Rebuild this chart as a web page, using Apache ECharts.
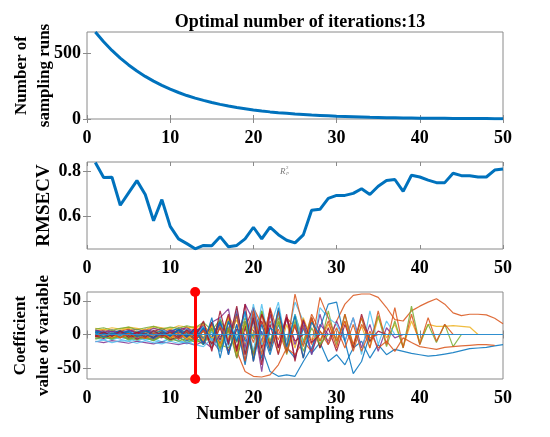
<!DOCTYPE html>
<html>
<head>
<meta charset="utf-8">
<script src="https://cdn.jsdelivr.net/npm/echarts@6/dist/echarts.min.js"></script>
<style>
  html, body { margin: 0; padding: 0; background: #fff; }
  #main { width: 550px; height: 437px; }
</style>
</head>
<body>
<div id="main"></div>
<script>
// data
var optimalIter = 13;
var runTicks = [0, 10, 20, 30, 40, 50];
var countTicks = [0, 500];
var rmsecvTicks = [0.6, 0.8];
var coefTicks = [-50, 0, 50];

// number of sampled variables per run (x = 1..50)
var countValues = [660, 586, 520, 462, 410, 364, 323, 287, 255, 226,
  201, 178, 158, 141, 125, 111, 98, 87, 78, 69,
  61, 54, 48, 43, 38, 34, 30, 27, 24, 21,
  19, 17, 15, 13, 12, 10, 9, 8, 7, 6,
  6, 5, 5, 4, 4, 3, 3, 3, 2, 2];

// RMSECV per run (x = 1..50)
var rmsecvValues = [0.841, 0.774, 0.775, 0.650, 0.705, 0.760, 0.698, 0.581, 0.675, 0.556,
  0.500, 0.479, 0.456, 0.471, 0.469, 0.510, 0.465, 0.471, 0.500, 0.552,
  0.500, 0.553, 0.519, 0.494, 0.482, 0.518, 0.628, 0.632, 0.681, 0.694,
  0.694, 0.703, 0.724, 0.698, 0.735, 0.760, 0.765, 0.712, 0.784, 0.776,
  0.762, 0.751, 0.751, 0.793, 0.782, 0.782, 0.776, 0.776, 0.807, 0.812];

// regression coefficient paths (x = 1..n, a path stops once the variable is dropped)
var coefPaths = [
  [-3,-5,-1,-4,-6,-2,-5,-7,-3,-8,-5,-9,-6, -10,4,-14,8,-20,12,-25,5,-30,15,-20,-35,10,-28,-12,-40, -30,-45,-20,-10,-35,-15,-30,-22,-25,-28,-30,-32,-31,-29,-27,-24,-21,-20,-19,-17,-15],
  [2,-3,1,4,-2,3,5,1,-4,6,3,-2,5, 8,-6,12,4,-10,15,6,-12,20,-8,25,10,-15,30,5,-10, 20,45,58,60,60,55,40,22,20,35,42,48,53,45,32,28,30,30,29,24,16],
  [-2,1,-4,0,-3,2,-5,1,-2,4,-6,2,-4, 6,-10,15,-5,22,-15,10,30,-20,18,-8,25,-15,20,-10,15, -8,20,-15,12,-20,25,-5,15,-18,20,-10,15,12,12,13,12,11,0],
  [-1,-4,2,-3,0,-6,1,-2,-5,3,-7,0,-4, 8,-12,20,-30,15,-40,30,-10,35,-20,25,-35,15,-25,30,-15, 20,-10,25,-20,15,-25,10,-5,0],
  [1,4,2,-1,5,3,0,6,2,-3,5,-1,7, -5,12,-8,18,-12,25,-6,35,-15,20,-25,30,-10,25,-20,35, -15,30,-20,25,-12,28,-18,20,-20,42,-15,15,-12,15,-18,0],
  [-5,-8,-3,-7,-10,-4,-8,-6,-11,-5,-9,-12,-7, -15,5,-20,12,-8,30,-25,45,-18,30,-10,48,20,-30,40,25, 15,-10,25,-30,35,-15,20,0],
  [3,6,1,5,8,2,7,4,9,3,6,11,2, -6,15,-12,25,-20,10,-30,20,-15,35,-25,15,-35,25,-20,10, -25,15,-20,30,-10,5,0],
  [0,2,-2,3,-1,4,-3,2,-4,5,-2,6,-5, 10,-15,22,-10,30,-25,40,-20,-55,-62,-60,-62,-40,-20,10,45, 48,-10,-58,-40,0],
  [4,1,-2,3,-1,-4,2,-3,1,-5,4,-6,3, -8,10,-14,6,-25,-55,-62,-63,-60,-45,-20,-30,-10,-25,5,-15, 10,-20,15,-25,5,-20,-10,-25,-5,-12,-18,-20,-22,-19,-18,-17,-16,-15,-15,-16],
  [5,8,3,6,9,4,7,10,5,8,3,9,12, -5,18,-10,28,5,-25,20,-15,35,-28,15,-20,25,-8,0],
  [2,-2,5,-1,3,-4,6,0,4,-3,7,-1,9, -10,18,25,38,-30,45,20,-55,30,-20,25,-15,20,-30,15,0],
  [-3,0,-5,1,-4,-1,-6,2,-3,-7,0,-5,3, -12,10,-20,25,-28,15,-35,35,-10,25,-30,20,-25,10,-15,0],
  [-6,-2,-8,-4,-7,-10,-5,-9,-12,-6,-10,-14,-8, 5,-18,12,-25,8,-30,25,-40,10,48,-20,30,-15,0],
  [0,3,-1,4,1,-2,5,2,-1,6,-3,4,-6, 15,-8,-25,20,-35,10,40,-20,15,-30,25,-10,0],
  [3,-2,4,1,-3,5,2,-4,6,3,-5,4,8, -6,10,-3,0],
  [-4,-1,-5,-2,-6,0,-3,-7,-1,-5,2,-8,-2, 12,-5,20,-15,30,-8,40,15,-25,35,-20,60,10,-15,55,25, -10,20,-25,15,-5,0],
  [-4,1,-2,-5,2,-1,-6,3,-2,-7,1,-3,-8, 5,-12,0],
  [6,4,7,3,5,8,4,9,6,3,10,7,5, 12,-4,15,8,0],
  [-6,-3,-7,-2,-5,-8,-4,-9,-3,-6,-10,-5,-12, -8,-4,-15,-20,0],
  [1,5,-1,3,6,0,4,-2,7,2,-4,9,3, -7,14,-10,20,-5,0],
  [-2,-6,0,-4,1,-7,-1,-5,2,-8,-3,4,-9, 6,-14,10,-25,8,0],
  [4,0,2,6,-1,3,7,1,-3,5,9,-2,6, 10,-8,18,-15,30,-10,0],
  [1,-2,3,-3,2,-4,4,-1,5,-5,3,-6,4, -8,14,-18,10,-25,20,-12,30,-20,8,-28,15,-18,25,-10,20, -20,30,-15,25,-20,35,-15,40,-20,30,-15,25,-10,15,0],
  [-1,3,-4,2,-3,4,-5,1,5,-4,3,-6,2, -9,12,-18,25,-30,15,0],
  [7,3,5,1,6,2,8,4,-1,7,2,11,-3, 16,-6,22,-12,35,-20,40,0],
  [-7,-4,-6,-1,-8,-3,-5,-9,-2,-10,-4,-12,-6, -15,8,-22,10,-35,20,-28,0],
  [2,-1,3,-2,4,0,-3,6,-1,4,-6,8,-4, 12,-10,25,-18,40,-30,45,-15,0],
  [-3,2,-1,4,-4,3,1,-5,4,-2,7,-4,10, -14,18,-8,30,-25,45,-40,30,0],
  [5,2,-1,4,3,-2,5,1,6,-3,8,2,-7, 10,-5,20,-30,15,-45,25,-35,10,0],
  [0,-3,2,-5,1,-2,-6,2,-4,3,-7,5,-10, 6,-20,12,-8,28,-40,35,-30,40,0],
  [9,7,10,8,11,9,7,12,10,8,13,11,9, 15,-5,0],
  [-10,-12,-9,-11,-13,-10,-12,-14,-11,-13,-15,-12,-16, -10,-20,0],
  [8,10,6,9,11,7,10,12,8,11,9,13,10, 18,6,22,0],
  [-11,-8,-12,-9,-10,-13,-9,-12,-14,-10,-13,-11,-15, -18,-6,-25,0],
  [-2,4,-3,5,-1,3,-4,6,-2,4,-5,7,-3, 20,-25,35,-15,42,-30,25,-45,38,-20,30,-40,22,-12,0],
  [3,-4,2,-1,5,-3,1,-6,3,-2,6,-4,8, -15,25,-35,20,-10,35,-40,15,-25,40,-18,28,-35,18,0]
];
// eliminated variables sit on zero
var zeroPath = [[1, 0], [50, 0]];

var lineColors = ['#0072BD', '#D95319', '#EDB120', '#7E2F8E', '#77AC30', '#4DBEEE', '#A2142F'];
var serif = '"Liberation Serif", "Times New Roman", serif';
var boxColor = '#8a8a8a';

function toXY(arr) {
  return arr.map(function (v, i) { return [i + 1, v]; });
}

var chart = echarts.init(document.getElementById('main'));

var grids = [
  { left: 87, right: 47, top: 32, height: 87 },
  { left: 87, right: 47, top: 162, height: 87 },
  { left: 87, right: 47, top: 292, height: 87 }
];
grids.forEach(function (g) {
  g.show = true; g.borderColor = boxColor; g.borderWidth = 1; g.backgroundColor = '#fff';
  g.containLabel = false; g.outerBoundsMode = 'none';
});

var xAxes = [], yAxes = [];
var yRanges = [[0, 660], [0.455, 0.843], [-66, 63]];
var yTicks = [countTicks, rmsecvTicks, coefTicks];
var yNames = ['Number of\nsampling runs', 'RMSECV', 'Coefficient\nvalue of variable'];
var yNameSizes = [17, 19, 17];
var yNameGaps = [31, 31, 32];

for (var k = 0; k < 3; k++) {
  xAxes.push({
    type: 'value', gridIndex: k, min: runTicks[0], max: runTicks[runTicks.length - 1],
    interval: runTicks[1] - runTicks[0],
    axisLine: { show: false }, splitLine: { show: false },
    axisTick: { inside: true, length: 4, lineStyle: { color: boxColor } },
    axisLabel: { margin: 10, color: '#000', fontFamily: serif, fontWeight: 'bold', fontSize: 18 },
    name: k === 2 ? 'Number of sampling runs' : '',
    nameLocation: 'middle', nameGap: 26, nameMoveOverlap: false,
    nameTextStyle: { color: '#000', fontFamily: serif, fontWeight: 'bold', fontSize: 18 }
  });
  xAxes.push({
    type: 'value', gridIndex: k, position: 'top', min: runTicks[0], max: runTicks[runTicks.length - 1],
    interval: runTicks[1] - runTicks[0],
    axisLine: { show: false }, splitLine: { show: false }, axisLabel: { show: false },
    axisTick: { inside: true, length: 4, lineStyle: { color: boxColor } }
  });
  yAxes.push({
    type: 'value', gridIndex: k, min: yRanges[k][0], max: yRanges[k][1],
    axisLine: { show: false }, splitLine: { show: false },
    axisTick: { inside: true, length: 4, lineStyle: { color: boxColor }, customValues: yTicks[k] },
    axisLabel: { margin: 6, color: '#000', fontFamily: serif, fontWeight: 'bold', fontSize: 18,
      customValues: yTicks[k] },
    name: yNames[k], nameLocation: 'middle', nameRotate: 90, nameGap: yNameGaps[k],
    nameMoveOverlap: false,
    nameTextStyle: { color: '#000', fontFamily: serif, fontWeight: 'bold', fontSize: yNameSizes[k], lineHeight: 23 }
  });
  yAxes.push({
    type: 'value', gridIndex: k, position: 'right', min: yRanges[k][0], max: yRanges[k][1],
    axisLine: { show: false }, splitLine: { show: false }, axisLabel: { show: false },
    axisTick: { inside: true, length: 4, lineStyle: { color: boxColor }, customValues: yTicks[k] }
  });
}

var series = [
  {
    type: 'line', xAxisIndex: 0, yAxisIndex: 0, data: toXY(countValues),
    showSymbol: false, lineStyle: { color: '#0072BD', width: 3 }, silent: true
  },
  {
    type: 'line', xAxisIndex: 2, yAxisIndex: 2, data: toXY(rmsecvValues),
    showSymbol: false, lineStyle: { color: '#0072BD', width: 3 }, silent: true
  }
];

coefPaths.forEach(function (p, i) {
  series.push({
    type: 'line', xAxisIndex: 4, yAxisIndex: 4, data: toXY(p),
    showSymbol: false, silent: true,
    lineStyle: { color: lineColors[i % lineColors.length], width: 1.2, opacity: 0.85 }
  });
});

series.push({
  type: 'line', xAxisIndex: 4, yAxisIndex: 4, data: zeroPath,
  showSymbol: false, silent: true, z: 3,
  lineStyle: { color: '#2f8fd0', width: 1.2 },
  markLine: {
    silent: true, symbol: ['circle', 'circle'], symbolSize: 10,
    label: { show: false },
    lineStyle: { color: '#ff0000', width: 3, type: 'solid' },
    itemStyle: { color: '#ff0000' },
    data: [{ xAxis: optimalIter }]
  }
});

chart.setOption({
  animation: false,
  title: {
    text: 'Optimal number of iterations:' + optimalIter,
    left: 295, top: 8, textAlign: 'center',
    textStyle: { fontFamily: serif, fontWeight: 'bold', fontSize: 18, color: '#000' }
  },
  grid: grids,
  xAxis: xAxes,
  yAxis: yAxes,
  series: series,
  graphic: [
    { type: 'text', left: 280, top: 167, style: { text: 'R', font: 'italic 9px ' + serif, fill: '#777' } },
    { type: 'text', left: 286, top: 165, style: { text: '2', font: '5px ' + serif, fill: '#777' } },
    { type: 'text', left: 286, top: 171, style: { text: 'P', font: 'italic 5px ' + serif, fill: '#777' } }
  ]
});
</script>
</body>
</html>
